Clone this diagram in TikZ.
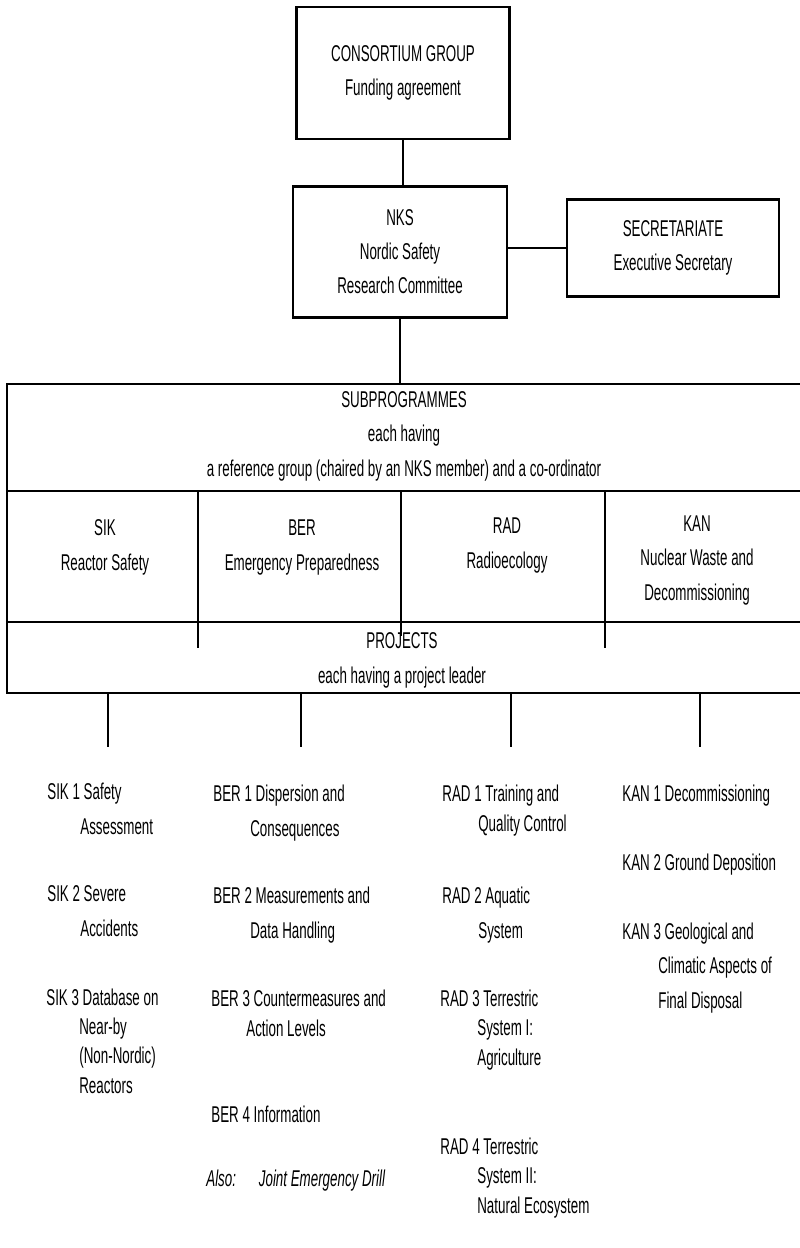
\documentclass[tikz,border=0pt]{standalone}
\usepackage{fontspec}
\setmainfont{Liberation Sans}[FakeStretch=0.585]

\begin{document}
\begin{tikzpicture}[
        x=0.02cm, y=-0.02cm,
        font=\fontsize{13}{19.4}\selectfont,
        box/.style={draw, line width=1.3pt, align=center, inner sep=0pt},
        bigbox/.style={draw, line width=1.4pt, inner sep=0pt},
        txt/.style={align=center, inner sep=0pt, anchor=base},
        item/.style={align=left, inner sep=0pt, anchor=base west},
        itemtight/.style={item, font=\fontsize{13}{16.6}\selectfont},
        link/.style={line width=0.7pt},
        divide/.style={line width=0.8pt}
    ]
        \path[use as bounding box, fill=white] (0,0) rectangle (800,1248);

        \node[box, minimum width=4.26cm, minimum height=2.64cm] (cons) at (403,73) {CONSORTIUM GROUP\\Funding agreement};
        \node[box, minimum width=4.28cm, minimum height=2.62cm] (nks) at (400,252) {NKS\\Nordic Safety\\Research Committee};
        \node[box, minimum width=4.24cm, minimum height=1.94cm] (secr) at (673,248) {SECRETARIATE\\Executive Secretary};
        \node[bigbox, minimum width=16.1cm, minimum height=6.18cm] (sub) at (409.5,538.5) {};

        \draw[link] (cons.south) -- (cons.south |- nks.north);
        \draw[link] (secr.west -| nks.east) -- (secr.west);
        \draw[link] (nks.south) -- (nks.south |- sub.north);

        \draw[divide] (sub.west |- 0,491) -- (sub.east |- 0,491);
        \draw[divide] (sub.west |- 0,622) -- (sub.east |- 0,622);
        \draw[link] (198,491) -- (198,648);
        \draw[link] (401,491) -- (401,636);
        \draw[link] (605,491) -- (605,648);

        \node[txt] (subtitle) at (404,476) {SUBPROGRAMMES\\each having\\a reference group (chaired by an NKS member) and a co-ordinator};
        \node[txt] (sik) at (105,570) {SIK\\Reactor Safety};
        \node[txt] (ber) at (302,570) {BER\\Emergency Preparedness};
        \node[txt] (rad) at (507,568) {RAD\\Radioecology};
        \node[txt] (kan) at (697,600) {KAN\\Nuclear Waste and\\Decommissioning};
        \node[txt] (proj) at (402,683) {PROJECTS\\each having a project leader};

        \coordinate (sikend) at (108,747);
        \coordinate (berend) at (301,747);
        \coordinate (radend) at (511,747);
        \coordinate (kanend) at (700,747);
        \draw[link] (sikend |- sub.south) -- (sikend);
        \draw[link] (berend |- sub.south) -- (berend);
        \draw[link] (radend |- sub.south) -- (radend);
        \draw[link] (kanend |- sub.south) -- (kanend);

        \node[item] (sik1) at (47,834) {SIK 1 Safety\\\hspace*{0.66cm}Assessment};
        \node[item] (sik2) at (47,936) {SIK 2 Severe\\\hspace*{0.66cm}Accidents};
        \node[itemtight] (sik3) at (46,1093) {SIK 3 Database on\\\hspace*{0.66cm}Near-by\\\hspace*{0.66cm}(Non-Nordic)\\\hspace*{0.66cm}Reactors};
        \node[item] (ber1) at (213,836) {BER 1 Dispersion and\\\hspace*{0.74cm}Consequences};
        \node[item] (ber2) at (213,938) {BER 2 Measurements and\\\hspace*{0.74cm}Data Handling};
        \node[itemtight] (ber3) at (211,1036) {BER 3 Countermeasures and\\\hspace*{0.7cm}Action Levels};
        \node[item] (ber4) at (211,1122) {BER 4 Information};
        \node[item] (also) at (206,1186) {\itshape Also:\quad Joint Emergency Drill};
        \node[itemtight] (rad1) at (442,831) {RAD 1 Training and\\\hspace*{0.72cm}Quality Control};
        \node[item] (rad2) at (442,938) {RAD 2 Aquatic\\\hspace*{0.72cm}System};
        \node[itemtight] (rad3) at (440,1065) {RAD 3 Terrestric\\\hspace*{0.74cm}System I:\\\hspace*{0.74cm}Agriculture};
        \node[itemtight] (rad4) at (440,1213) {RAD 4 Terrestric\\\hspace*{0.74cm}System II:\\\hspace*{0.74cm}Natural Ecosystem};
        \node[item] (kan1) at (622,801) {KAN 1 Decommissioning};
        \node[item] (kan2) at (622,870) {KAN 2 Ground Deposition};
        \node[item] (kan3) at (622,1008) {KAN 3 Geological and\\\hspace*{0.72cm}Climatic Aspects of\\\hspace*{0.72cm}Final Disposal};
    \end{tikzpicture}
\end{document}
